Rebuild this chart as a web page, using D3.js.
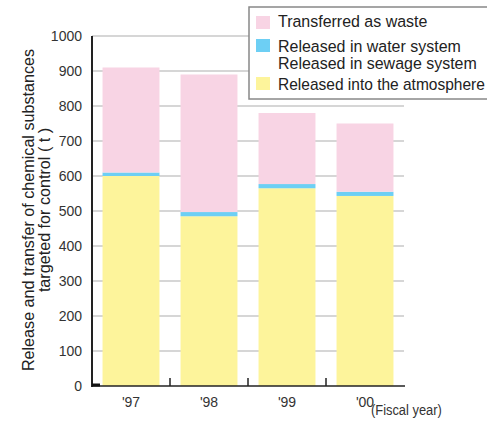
<!DOCTYPE html>
<html><head><meta charset="utf-8">
<script src="https://cdn.jsdelivr.net/npm/d3@7"></script>
<style>body{margin:0;background:#fff}svg{display:block}</style>
</head><body>
<script>
const years = ["'97", "'98", "'99", "'00"];
const atmosphere = [600, 485, 565, 543];
const water = [10, 12, 12, 12];
const waste = [300, 393, 203, 195];
const yTicks = [0, 100, 200, 300, 400, 500, 600, 700, 800, 900, 1000];
const seriesNames = ["Released into the atmosphere", "Released in water system", "Transferred as waste"];
const colors = ["#fdf49b", "#6dcff4", "#f8d4e4"];

const W = 487, H = 421;
const svg = d3.select("body").append("svg").attr("width", W).attr("height", H);
const x = d3.scaleBand().domain(years).range([92, 404]).paddingInner(0.27).paddingOuter(0.135);
const y = d3.scaleLinear().domain([0, 1000]).range([386, 36]);
const FONT = "Liberation Sans, Arial, sans-serif";

// grid
svg.append("g").selectAll("line").data(yTicks.filter(d => d > 0)).join("line")
  .attr("x1", 92).attr("x2", 404).attr("y1", d => y(d)).attr("y2", d => y(d))
  .attr("stroke", "#c8c8c8").attr("stroke-width", 1.3);

// stacks
const rows = years.map((yr, i) => ({ year: yr, a: atmosphere[i], w: water[i], t: waste[i] }));
const stack = d3.stack().keys(["a", "w", "t"])(rows);
svg.append("g").selectAll("g").data(stack).join("g").attr("fill", (d, i) => colors[i])
  .selectAll("rect").data(d => d).join("rect")
  .attr("x", d => x(d.data.year)).attr("width", x.bandwidth())
  .attr("y", d => y(d[1])).attr("height", d => y(d[0]) - y(d[1]));

// y axis labels
const yAxis = d3.axisLeft(y).tickValues(yTicks).tickFormat(d3.format("d")).tickSize(0).tickPadding(10);
const gy = svg.append("g").attr("transform", "translate(92,0)").call(yAxis);
gy.select(".domain").remove();
gy.selectAll("text").attr("font-family", FONT).attr("font-size", 14).attr("fill", "#333");

// x axis labels
const xAxis = d3.axisBottom(x).tickSize(0).tickPadding(11);
const gx = svg.append("g").attr("transform", "translate(0,386)").call(xAxis);
gx.select(".domain").remove();
gx.selectAll("text").attr("font-family", FONT).attr("font-size", 14).attr("fill", "#333");

// axis lines
svg.append("line").attr("x1", 92).attr("x2", 92).attr("y1", 36).attr("y2", 387).attr("stroke", "#222").attr("stroke-width", 2);
svg.append("line").attr("x1", 91).attr("x2", 405).attr("y1", 386).attr("y2", 386).attr("stroke", "#222").attr("stroke-width", 1.6);
svg.append("line").attr("x1", 92).attr("x2", 100).attr("y1", 385).attr("y2", 385).attr("stroke", "#111").attr("stroke-width", 3);
// separator ticks
svg.append("g").selectAll("line").data(years.slice(1)).join("line")
  .attr("x1", d => x(d) - x.step() * x.paddingInner() / 2).attr("x2", d => x(d) - x.step() * x.paddingInner() / 2)
  .attr("y1", 378).attr("y2", 386).attr("stroke", "#222").attr("stroke-width", 1.5);

svg.append("text").attr("transform", "translate(371,415) scale(0.92,1)").text("(Fiscal year)")
  .attr("font-family", FONT).attr("font-size", 14).attr("fill", "#333");

// y title
const yt = svg.append("text").attr("transform", "translate(0,210) rotate(-90) scale(0.95,1)")
  .attr("text-anchor", "middle").attr("font-family", FONT)
  .attr("font-size", 17).attr("fill", "#222");
yt.append("tspan").attr("x", 0).attr("y", 34).text("Release and transfer of chemical substances");
yt.append("tspan").attr("x", 0).attr("y", 50).text("targeted for control ( t )");

// legend
const lg = svg.append("g");
lg.append("rect").attr("x", 249).attr("y", 7).attr("width", 260).attr("height", 92)
  .attr("fill", "#fff").attr("stroke", "#888").attr("stroke-width", 1.5);
const legendItems = [
  { c: colors[2], sy: 16, lines: ["Transferred as waste"], ty: 27 },
  { c: colors[1], sy: 39, lines: ["Released in water system", "Released in sewage system"], ty: 52 },
  { c: colors[0], sy: 77, lines: ["Released into the atmosphere"], ty: 90 }
];
legendItems.forEach(it => {
  lg.append("rect").attr("x", 256).attr("y", it.sy).attr("width", 14).attr("height", 13).attr("fill", it.c);
  const t = lg.append("text")
    .attr("font-family", FONT).attr("font-size", 17).attr("fill", "#222");
  it.lines.forEach((l, j) => {
    t.append("tspan").attr("x", 0).attr("y", j * 17).text(l);
  });
  const wdt = t.node().getComputedTextLength ? t.node().getBBox().width : 200;
  const s = Math.min(0.94, (485 - 278) / wdt);
  t.attr("transform", `translate(278,${it.ty}) scale(${s},1)`);
});
</script>
</body></html>
